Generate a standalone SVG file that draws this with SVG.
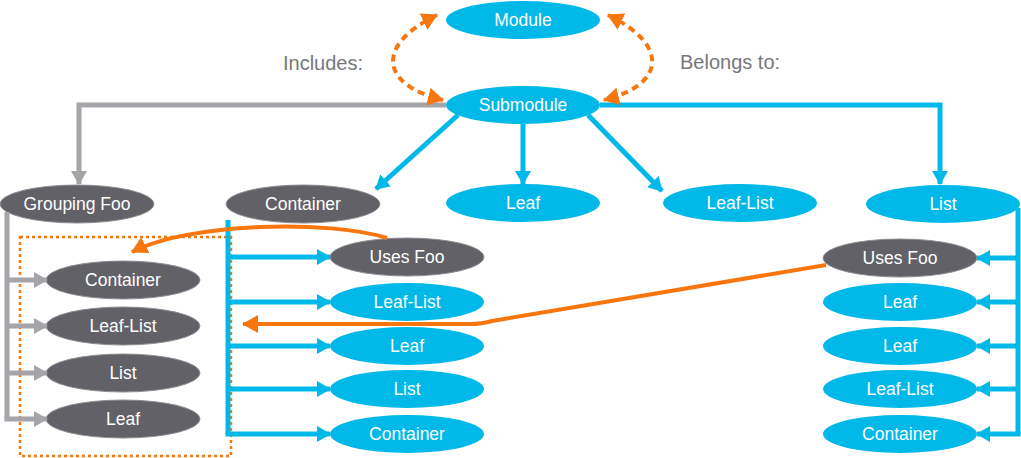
<svg xmlns="http://www.w3.org/2000/svg" width="1021" height="458" viewBox="0 0 1021 458">
<style>
.b{fill:#00b9e8}
.d{fill:#616167;stroke:#8c8c92;stroke-width:1}
.t{font-family:"Liberation Sans",Arial,sans-serif;font-size:17.5px;fill:#fff;text-anchor:middle}
.lbl{font-family:"Liberation Sans",Arial,sans-serif;font-size:20px;fill:#77787c}
.cb{fill:none;stroke:#00b9e8;stroke-width:5}
.cg{fill:none;stroke:#a4a4a9;stroke-width:5}
.co{fill:none;stroke:#f7760d;stroke-width:4}
.cod{fill:none;stroke:#f7760d;stroke-width:4;stroke-dasharray:7 5}
.box{fill:none;stroke:#f7760d;stroke-width:2.5;stroke-dasharray:3 3}
</style>
<defs>
<marker id="ab" markerUnits="userSpaceOnUse" markerWidth="14" markerHeight="16" refX="13" refY="8" orient="auto"><path d="M0,0 L14,8 L0,16 z" fill="#00b9e8"/></marker>
<marker id="ag" markerUnits="userSpaceOnUse" markerWidth="14" markerHeight="16" refX="13" refY="8" orient="auto"><path d="M0,0 L14,8 L0,16 z" fill="#a4a4a9"/></marker>
<marker id="ao" markerUnits="userSpaceOnUse" markerWidth="16" markerHeight="18" refX="15" refY="9" orient="auto-start-reverse"><path d="M0,0 L16,9 L0,18 z" fill="#f7760d"/></marker>
</defs>
<text class="lbl" x="283" y="70">Includes:</text>
<text class="lbl" x="680" y="69">Belongs to:</text>
<rect class="box" x="20" y="237" width="211" height="219"/>
<g id="module"><ellipse class="b" cx="523" cy="20" rx="77" ry="19"/><text class="t" x="523" y="26">Module</text></g>
<g id="submodule"><ellipse class="b" cx="523" cy="105" rx="77" ry="19"/><text class="t" x="523" y="111">Submodule</text></g>
<g id="grouping-foo"><ellipse class="d" cx="77" cy="204" rx="77" ry="19"/><text class="t" x="77" y="210">Grouping Foo</text></g>
<g id="container-top"><ellipse class="d" cx="303" cy="204" rx="77" ry="19"/><text class="t" x="303" y="210">Container</text></g>
<g id="leaf-top"><ellipse class="b" cx="523" cy="203" rx="77" ry="19"/><text class="t" x="523" y="209">Leaf</text></g>
<g id="leaflist-top"><ellipse class="b" cx="740" cy="203" rx="77" ry="19"/><text class="t" x="740" y="209">Leaf-List</text></g>
<g id="list-top"><ellipse class="b" cx="943" cy="204" rx="77" ry="19"/><text class="t" x="943" y="210">List</text></g>
<g id="g-container"><ellipse class="d" cx="123" cy="280" rx="77" ry="19"/><text class="t" x="123" y="286">Container</text></g>
<g id="g-leaflist"><ellipse class="d" cx="123" cy="326" rx="77" ry="19"/><text class="t" x="123" y="332">Leaf-List</text></g>
<g id="g-list"><ellipse class="d" cx="123" cy="373" rx="77" ry="19"/><text class="t" x="123" y="379">List</text></g>
<g id="g-leaf"><ellipse class="d" cx="123" cy="419" rx="77" ry="19"/><text class="t" x="123" y="425">Leaf</text></g>
<g id="c-usesfoo"><ellipse class="d" cx="407" cy="257" rx="77" ry="19"/><text class="t" x="407" y="263">Uses Foo</text></g>
<g id="c-leaflist"><ellipse class="b" cx="407" cy="302" rx="77" ry="19"/><text class="t" x="407" y="308">Leaf-List</text></g>
<g id="c-leaf"><ellipse class="b" cx="407" cy="346" rx="77" ry="19"/><text class="t" x="407" y="352">Leaf</text></g>
<g id="c-list"><ellipse class="b" cx="407" cy="389" rx="77" ry="19"/><text class="t" x="407" y="395">List</text></g>
<g id="c-container"><ellipse class="b" cx="407" cy="434" rx="77" ry="19"/><text class="t" x="407" y="440">Container</text></g>
<g id="l-usesfoo"><ellipse class="d" cx="900" cy="258" rx="77" ry="19"/><text class="t" x="900" y="264">Uses Foo</text></g>
<g id="l-leaf1"><ellipse class="b" cx="900" cy="302" rx="77" ry="19"/><text class="t" x="900" y="308">Leaf</text></g>
<g id="l-leaf2"><ellipse class="b" cx="900" cy="346" rx="77" ry="19"/><text class="t" x="900" y="352">Leaf</text></g>
<g id="l-leaflist"><ellipse class="b" cx="900" cy="389" rx="77" ry="19"/><text class="t" x="900" y="395">Leaf-List</text></g>
<g id="l-container"><ellipse class="b" cx="900" cy="434" rx="77" ry="19"/><text class="t" x="900" y="440">Container</text></g>
<g id="connectors">
<path class="cg" d="M446,105 H79 V184" marker-end="url(#ag)"/>
<path class="cb" d="M600,105 H940 V184" marker-end="url(#ab)"/>
<path class="cb" d="M458,115 L376,189" marker-end="url(#ab)"/>
<path class="cb" d="M523,124 V184" marker-end="url(#ab)"/>
<path class="cb" d="M588,115 L662,191" marker-end="url(#ab)"/>
<path class="cg" d="M7,212 V419"/>
<path class="cg" d="M7,280 H47" marker-end="url(#ag)"/>
<path class="cg" d="M7,326 H47" marker-end="url(#ag)"/>
<path class="cg" d="M7,373 H47" marker-end="url(#ag)"/>
<path class="cg" d="M4.5,419 H47" marker-end="url(#ag)"/>
<path class="cb" d="M228,220 V434"/>
<path class="cb" d="M228,257 H330" marker-end="url(#ab)"/>
<path class="cb" d="M228,302 H330" marker-end="url(#ab)"/>
<path class="cb" d="M228,346 H330" marker-end="url(#ab)"/>
<path class="cb" d="M228,389 H330" marker-end="url(#ab)"/>
<path class="cb" d="M225.5,434 H330" marker-end="url(#ab)"/>
<path class="cb" d="M1018,208 V434"/>
<path class="cb" d="M1018,258 H977" marker-end="url(#ab)"/>
<path class="cb" d="M1018,302 H977" marker-end="url(#ab)"/>
<path class="cb" d="M1018,346 H977" marker-end="url(#ab)"/>
<path class="cb" d="M1018,389 H977" marker-end="url(#ab)"/>
<path class="cb" d="M1020.5,434 H977" marker-end="url(#ab)"/>
<path class="cod" d="M437,15 C375,45 380,85 443,100" marker-start="url(#ao)" marker-end="url(#ao)"/>
<path class="cod" d="M608,15 C670,45 665,85 604,100" marker-start="url(#ao)" marker-end="url(#ao)"/>
<path class="co" d="M387,238 C330,220 190,222 132,252" marker-end="url(#ao)"/>
<path class="co" d="M826,265 L492,321 Q482,324 470,324 L243,324" marker-end="url(#ao)"/>
</g>
</svg>
